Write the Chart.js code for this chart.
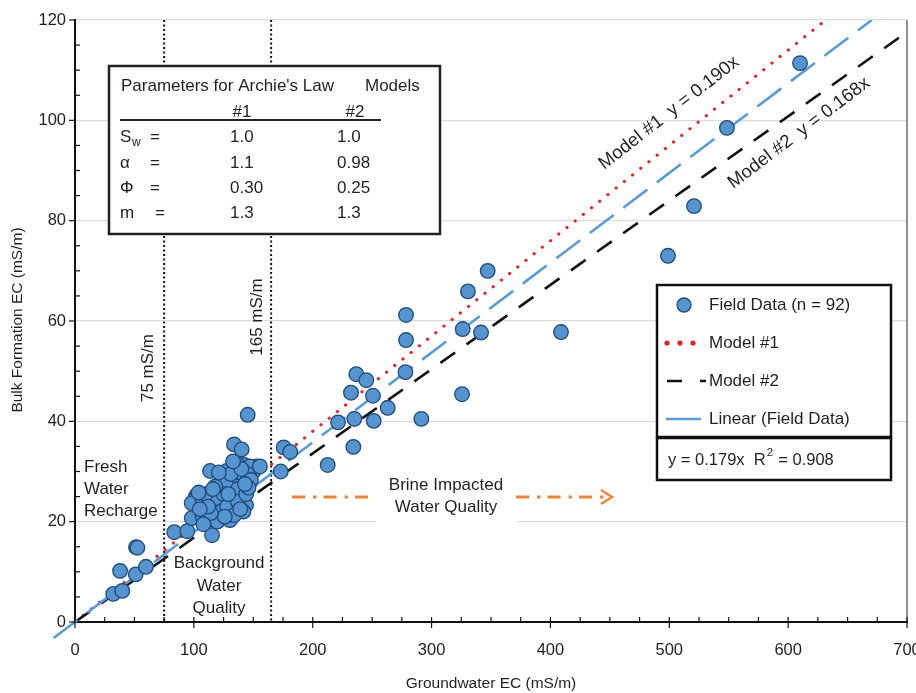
<!DOCTYPE html>
<html>
<head>
<meta charset="utf-8">
<script src="https://cdn.jsdelivr.net/npm/chart.js@4.4.1/dist/chart.umd.min.js"></script>
<style>
  body { margin: 0; background: #fff; }
  canvas { display: block; }
</style>
</head>
<body>
<canvas id="ecChart" width="916" height="693"></canvas>
<script>
// field data: groundwater EC (x) vs bulk formation EC (y), mS/m
const groundwaterEC = [
    32.2, 39.8, 37.9, 51.1, 59.7, 51.3, 52.5,
    83.5, 94.5, 115.3, 98.2, 107.4, 119.7, 130.4, 101.8, 101.0, 98.2, 107.4, 119.2, 132.7,
    143.9, 123.4, 114.2, 141.6, 113.6, 127.6, 133.8, 140.2, 145.3, 150.0, 152.8, 142.4, 147.0,
    138.3, 141.1, 130.4, 123.4, 134.6, 127.0, 137.0, 125.0, 110.0, 104.0, 145.0, 148.0, 136.0,
    131.0, 128.0, 112.0, 105.0, 137.0, 134.0, 144.0, 140.0, 118.0, 126.0, 108.0, 139.0, 146.0,
    155.6, 175.6, 181.1, 173.1,
    212.6, 221.3, 235.0, 251.3, 234.2, 232.2, 236.7, 245.1, 250.7, 263.1, 278.5, 278.5, 278.0, 291.4,
    325.6, 326.2, 341.6, 330.6, 347.2, 408.9, 498.9, 520.8, 548.5, 610.0,
    116.0, 129.0, 121.0, 143.0, 133.0
];
const bulkEC = [
    5.6, 6.2, 10.2, 9.5, 11.0, 14.9, 14.8,
    17.9, 18.1, 17.3, 20.7, 21.0, 20.0, 20.3, 25.1, 24.5, 23.7, 24.0, 24.7, 23.5,
    23.3, 22.1, 21.7, 22.0, 30.1, 30.1, 35.4, 34.4, 41.3, 30.0, 31.0, 31.3, 31.0,
    29.4, 28.5, 28.4, 28.1, 27.1, 27.5, 26.5, 25.5, 25.5, 25.8, 29.5, 28.3, 31.5,
    29.5, 23.0, 23.0, 22.5, 24.0, 21.3, 25.5, 30.5, 27.0, 21.0, 19.5, 22.5, 26.8,
    31.0, 34.8, 33.9, 30.0,
    31.3, 39.8, 40.5, 40.1, 34.9, 45.7, 49.4, 48.2, 45.1, 42.7, 61.2, 56.2, 49.8, 40.5,
    45.4, 58.4, 57.7, 65.9, 70.0, 57.8, 73.0, 82.9, 98.5, 111.4,
    26.5, 25.5, 29.8, 27.5, 32.0
];

// line end points
const model1Line = [{x: 0, y: 0}, {x: 631.6, y: 120}];   // y = 0.190x
const model2Line = [{x: 0, y: 0}, {x: 700, y: 117.6}];   // y = 0.168x
const fitLine = [{x: -18, y: -3.2}, {x: 670.4, y: 120}]; // y = 0.179x, runs a bit past the origin

const qualityLimits = [75, 165];
const xTicks = [0, 100, 200, 300, 400, 500, 600, 700];
const yTicks = [0, 20, 40, 60, 80, 100, 120];

const FONT = '"Liberation Sans", Arial, sans-serif';
const INK = '#231f20';

function text(ctx, s, x, y, size, align, rot) {
    ctx.save();
    ctx.translate(x, y);
    if (rot) ctx.rotate(rot);
    ctx.font = size + 'px ' + FONT;
    ctx.fillStyle = INK;
    ctx.textAlign = align || 'left';
    ctx.textBaseline = 'middle';
    ctx.fillText(s, 0, 0);
    ctx.restore();
}

function seg(ctx, x1, y1, x2, y2) {
    ctx.beginPath();
    ctx.moveTo(x1, y1);
    ctx.lineTo(x2, y2);
    ctx.stroke();
}

const overlay = {
    id: 'overlay',
    beforeDatasetsDraw(chart) {
        const {ctx, chartArea: a, scales: {x}} = chart;
        ctx.save();
        // white patch behind brine label (hides grid line)
        ctx.fillStyle = '#fff';
        ctx.fillRect(376, 470, 141, 57);

        // 75 and 165 mS/m boundaries
        ctx.strokeStyle = '#111';
        ctx.lineWidth = 2;
        ctx.setLineDash([2, 2.5]);
        qualityLimits.forEach(v => {
            const px = x.getPixelForValue(v);
            seg(ctx, px, a.top, px, a.bottom);
        });
        ctx.setLineDash([]);
        ctx.restore();
    },
    afterDraw(chart) {
        const {ctx, chartArea: a, scales: {x, y}} = chart;
        ctx.save();

        // right frame
        ctx.strokeStyle = '#444';
        ctx.lineWidth = 1.2;
        seg(ctx, a.right, a.top, a.right, a.bottom);

        // tick marks
        ctx.strokeStyle = '#111';
        ctx.lineWidth = 1.2;
        for (let v = 0; v <= 700; v += 25) {
            const px = x.getPixelForValue(v);
            if (v % 100 === 0) seg(ctx, px, a.bottom - 5, px, a.bottom + 6);
            else seg(ctx, px, a.bottom, px, a.bottom - 5);
        }
        for (let v = 0; v <= 120; v += 5) {
            const py = y.getPixelForValue(v);
            if (v % 20 === 0) seg(ctx, a.left - 6, py, a.left, py);
            else seg(ctx, a.left, py, a.left + 5, py);
        }

        // axis titles
        text(ctx, 'Groundwater EC (mS/m)', (a.left + a.right) / 2, 684, 15.5, 'center');
        text(ctx, 'Bulk Formation EC (mS/m)', 18, 320, 15.5, 'center', -Math.PI / 2);

        // boundary labels
        text(ctx, '75 mS/m', 148, 368, 17, 'center', -Math.PI / 2);
        text(ctx, '165 mS/m', 257, 317, 17, 'center', -Math.PI / 2);

        // region labels
        text(ctx, 'Fresh', 84, 467, 17);
        text(ctx, 'Water', 84, 489, 17);
        text(ctx, 'Recharge', 84, 511, 17);
        text(ctx, 'Background', 219, 563, 17, 'center');
        text(ctx, 'Water', 219, 586, 17, 'center');
        text(ctx, 'Quality', 219, 608, 17, 'center');
        text(ctx, 'Brine Impacted', 446, 485, 17, 'center');
        text(ctx, 'Water Quality', 446, 507, 17, 'center');

        // brine arrow (dash-dot)
        ctx.strokeStyle = '#F0853A';
        ctx.lineWidth = 3;
        ctx.setLineDash([13, 8, 3.5, 7]);
        seg(ctx, 292, 497, 372, 497);
        seg(ctx, 516, 497, 606, 497);
        ctx.setLineDash([]);
        ctx.lineWidth = 2.5;
        ctx.beginPath();
        ctx.moveTo(601, 490);
        ctx.lineTo(612, 497);
        ctx.lineTo(601, 504);
        ctx.stroke();

        // model labels along lines
        text(ctx, 'Model #1  y = 0.190x', 669, 113, 18.5, 'center', -38 * Math.PI / 180);
        text(ctx, 'Model #2  y = 0.168x', 799, 133, 18.5, 'center', -37 * Math.PI / 180);

        // parameter table
        ctx.fillStyle = '#fff';
        ctx.fillRect(109, 66, 331, 168);
        ctx.strokeStyle = '#222';
        ctx.lineWidth = 2.5;
        ctx.strokeRect(109, 66, 331, 168);
        text(ctx, "Parameters for Archie's Law", 121, 86, 17);
        text(ctx, 'Models', 365, 86, 17);
        text(ctx, '#1', 242, 112, 17, 'center');
        text(ctx, '#2', 355, 112, 17, 'center');
        ctx.lineWidth = 2;
        seg(ctx, 120, 120, 381, 120);
        const rows = [137, 163, 188, 213];
        text(ctx, 'S', 120, rows[0], 17);
        text(ctx, 'w', 132, rows[0] + 6, 12);
        text(ctx, '\u03b1', 120, rows[1], 17);
        text(ctx, '\u03a6', 120, rows[2], 17);
        text(ctx, 'm', 120, rows[3], 17);
        [150, 150, 150, 155].forEach((ex, i) => text(ctx, '=', ex, rows[i], 17));
        const col1 = ['1.0', '1.1', '0.30', '1.3'];
        const col2 = ['1.0', '0.98', '0.25', '1.3'];
        rows.forEach((ry, i) => {
            text(ctx, col1[i], 230, ry, 17);
            text(ctx, col2[i], 337, ry, 17);
        });

        // legend
        ctx.fillStyle = '#fff';
        ctx.fillRect(657, 285, 234, 152);
        ctx.strokeStyle = '#111';
        ctx.lineWidth = 2.5;
        ctx.strokeRect(657, 285, 234, 152);
        ctx.fillStyle = '#fff';
        ctx.fillRect(657, 438, 234, 42);
        ctx.strokeRect(657, 438, 234, 42);

        ctx.beginPath();
        ctx.arc(684, 305, 7, 0, Math.PI * 2);
        ctx.fillStyle = '#5694D0';
        ctx.fill();
        ctx.lineWidth = 1.3;
        ctx.strokeStyle = '#1E4A78';
        ctx.stroke();
        text(ctx, 'Field Data (n = 92)', 709, 305, 17);

        ctx.fillStyle = '#E8202A';
        [667, 680, 693].forEach(dx => {
            ctx.beginPath();
            ctx.arc(dx, 343, 2.6, 0, Math.PI * 2);
            ctx.fill();
        });
        text(ctx, 'Model #1', 709, 343, 17);

        ctx.strokeStyle = '#111';
        ctx.lineWidth = 2.5;
        seg(ctx, 667, 381, 682, 381);
        seg(ctx, 700, 381, 706, 381);
        text(ctx, 'Model #2', 709, 381, 17);

        ctx.strokeStyle = '#5B9BD5';
        ctx.lineWidth = 2.5;
        seg(ctx, 666, 419, 701, 419);
        text(ctx, 'Linear (Field Data)', 709, 419, 17);

        text(ctx, 'y = 0.179x  R', 668, 460, 16.5);
        ctx.font = '16.5px ' + FONT;
        const w = ctx.measureText('y = 0.179x  R').width;
        text(ctx, '2', 668 + w + 1, 453, 11.5);
        text(ctx, ' = 0.908', 668 + w + 8, 460, 16.5);

        ctx.restore();
    }
};

const config = {
    type: 'scatter',
    data: {
        datasets: [
            {
                label: 'Field Data (n = 92)',
                data: groundwaterEC.map((gx, i) => ({x: gx, y: bulkEC[i]})),
                pointRadius: 7.3,
                pointBackgroundColor: '#5694D0',
                pointBorderColor: '#1E4A78',
                pointBorderWidth: 1.3,
                order: 0
            },
            {
                label: 'Model #1',
                data: model1Line,
                showLine: true,
                pointRadius: 0,
                borderColor: '#E8202A',
                borderWidth: 3.2,
                borderDash: [0.01, 10.5],
                borderCapStyle: 'round',
                order: 3
            },
            {
                label: 'Model #2',
                data: model2Line,
                showLine: true,
                pointRadius: 0,
                borderColor: '#111',
                borderWidth: 2.6,
                borderDash: [18, 14],
                order: 2
            },
            {
                label: 'Linear (Field Data)',
                data: fitLine,
                showLine: true,
                pointRadius: 0,
                borderColor: '#5B9BD5',
                borderWidth: 2.6,
                borderDash: [30, 12],
                clip: {left: 30, bottom: 30, top: 0, right: 0},
                order: 1
            }
        ]
    },
    options: {
        responsive: false,
        animation: false,
        layout: {padding: {top: 20, right: 9, left: 0, bottom: 0}},
        plugins: {
            legend: {display: false},
            tooltip: {enabled: false}
        },
        scales: {
            x: {
                type: 'linear',
                min: 0,
                max: 700,
                afterBuildTicks: s => { s.ticks = xTicks.map(v => ({value: v})); },
                afterFit: s => { s.height = 71; s.paddingLeft = 0; s.paddingRight = 0; },
                grid: {display: false, drawTicks: false},
                border: {color: '#111', width: 2},
                ticks: {padding: 19, color: INK, font: {family: FONT, size: 16.5}, maxRotation: 0}
            },
            y: {
                type: 'linear',
                min: 0,
                max: 120,
                afterBuildTicks: s => { s.ticks = yTicks.map(v => ({value: v})); },
                afterFit: s => { s.width = 75; s.paddingTop = 0; s.paddingBottom = 0; },
                grid: {color: '#dcdcdc', lineWidth: 1.2, drawTicks: false},
                border: {color: '#111', width: 2},
                ticks: {padding: 9, color: INK, font: {family: FONT, size: 16.5}}
            }
        }
    },
    plugins: [overlay]
};

window.onload = function() {
    const ctx = document.getElementById('ecChart').getContext('2d');
    new Chart(ctx, config);
};
</script>
</body>
</html>
